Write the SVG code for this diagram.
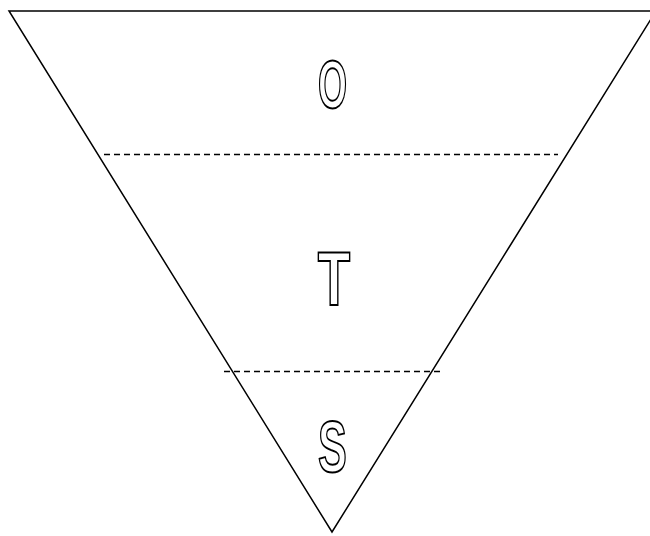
<svg xmlns="http://www.w3.org/2000/svg" width="650" height="536" viewBox="0 0 650 536">
<style>
.edge{fill:none;stroke:#000;stroke-width:1.5}
.dash{fill:none;stroke:#000;stroke-width:1.3;stroke-dasharray:6 4}
.lbl{font-family:"Liberation Sans",Arial,sans-serif;font-weight:bold;fill:#fff;stroke:#000;stroke-width:2;text-anchor:middle}
</style>
<rect width="650" height="536" fill="#fff"/>
<g id="funnel">
<polygon class="edge" points="9,11 656,11 332,532"/>
</g>
<g id="connectors">
<line class="dash" x1="104" y1="154.5" x2="558" y2="154.5"/>
<line class="dash" x1="224" y1="371.5" x2="441" y2="371.5"/>
</g>
<g id="node-O">
<text class="lbl" transform="translate(332.5,108) scale(0.55,1)" font-size="68">O</text>
</g>
<g id="node-T">
<text class="lbl" transform="translate(334,305) scale(0.7,1)" font-size="76">T</text>
</g>
<g id="node-S">
<text class="lbl" transform="translate(332.5,472) scale(0.6,1)" font-size="72">S</text>
</g>
</svg>
